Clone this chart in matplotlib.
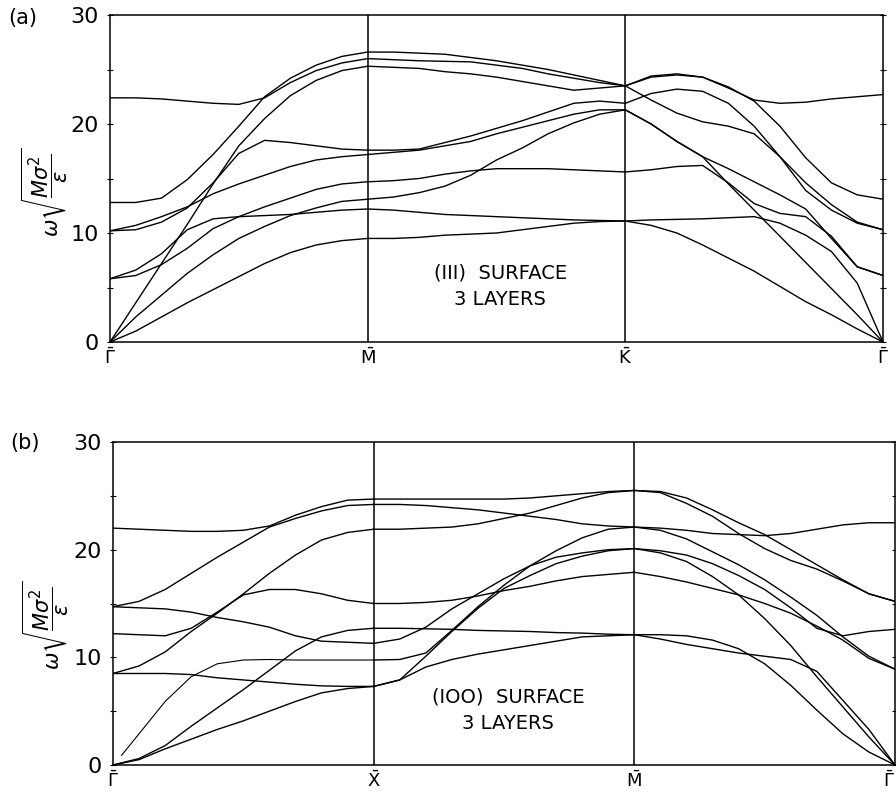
import numpy as np
import matplotlib
matplotlib.use('Agg')
import matplotlib.pyplot as plt

plt.rcParams['font.family'] = ['DejaVu Sans']
plt.rcParams['mathtext.fontset'] = 'dejavusans'

# fraction along each symmetry segment
frac = [0.0, 0.1, 0.2, 0.3, 0.4, 0.5, 0.6, 0.7, 0.8, 0.9, 1.0]

# ---- panel (a): (111) surface, Gamma-M-K-Gamma ----
a_labels = [r'$\bar{\Gamma}$', r'$\bar{\mathrm{M}}$', r'$\bar{\mathrm{K}}$', r'$\bar{\Gamma}$']
a_GM = [
    [22.4, 22.4, 22.3, 22.1, 21.9, 21.8, 22.4, 23.8, 24.9, 25.6, 26.0],
    [12.8, 12.8, 13.2, 14.9, 17.2, 19.8, 22.5, 24.2, 25.4, 26.2, 26.6],
    [0.0, 3.6, 7.2, 10.8, 14.5, 18.0, 20.5, 22.6, 24.0, 24.9, 25.3],
    [10.2, 10.3, 11.0, 12.3, 14.6, 17.3, 18.5, 18.3, 18.0, 17.7, 17.6],
    [10.2, 10.7, 11.5, 12.4, 13.6, 14.5, 15.3, 16.1, 16.7, 17.0, 17.2],
    [5.8, 6.6, 8.1, 10.3, 11.3, 11.5, 11.6, 11.7, 11.9, 12.1, 12.2],
    [5.8, 6.1, 7.1, 8.6, 10.4, 11.5, 12.4, 13.2, 14.0, 14.5, 14.7],
    [0.0, 2.3, 4.3, 6.3, 8.0, 9.5, 10.6, 11.6, 12.3, 12.9, 13.1],
    [0.0, 1.0, 2.3, 3.6, 4.8, 6.0, 7.2, 8.2, 8.9, 9.3, 9.5],
]
a_MK = [
    [26.6, 26.6, 26.5, 26.4, 26.1, 25.8, 25.4, 25.0, 24.5, 24.0, 23.5],
    [26.0, 25.9, 25.8, 25.75, 25.7, 25.4, 25.1, 24.6, 24.2, 23.8, 23.5],
    [25.3, 25.2, 25.1, 24.8, 24.6, 24.3, 23.9, 23.5, 23.1, 23.3, 23.5],
    [17.6, 17.6, 17.7, 18.3, 18.9, 19.6, 20.3, 21.1, 21.9, 22.1, 21.9],
    [17.2, 17.4, 17.6, 18.0, 18.4, 19.1, 19.7, 20.3, 20.9, 21.3, 21.3],
    [13.1, 13.3, 13.7, 14.3, 15.3, 16.7, 17.8, 19.1, 20.1, 20.9, 21.3],
    [14.7, 14.8, 15.0, 15.4, 15.7, 15.9, 15.9, 15.9, 15.8, 15.7, 15.6],
    [12.2, 12.1, 11.9, 11.7, 11.6, 11.5, 11.4, 11.3, 11.2, 11.15, 11.1],
    [9.5, 9.5, 9.6, 9.8, 9.9, 10.0, 10.3, 10.6, 10.9, 11.05, 11.1],
]
a_KG = [
    [23.5, 24.3, 24.5, 24.3, 23.3, 22.2, 21.9, 22.0, 22.3, 22.5, 22.7],
    [23.5, 24.4, 24.6, 24.3, 23.4, 22.1, 19.8, 16.9, 14.6, 13.5, 13.1],
    [23.5, 22.2, 21.0, 20.2, 19.8, 19.1, 17.0, 13.9, 12.1, 10.9, 10.3],
    [21.9, 22.8, 23.2, 23.0, 21.9, 19.8, 17.0, 14.6, 12.6, 11.0, 10.3],
    [21.3, 20.0, 18.4, 17.0, 15.9, 14.7, 13.5, 12.2, 9.5, 6.9, 6.1],
    [15.6, 15.8, 16.1, 16.2, 14.6, 12.7, 11.8, 11.5, 9.7, 6.9, 6.1],
    [21.3, 20.0, 18.4, 17.0, 14.5, 12.1, 9.7, 7.3, 4.9, 2.5, 0.0],
    [11.1, 11.2, 11.25, 11.3, 11.4, 11.5, 10.9, 9.8, 8.3, 5.4, 0.0],
    [11.1, 10.7, 10.0, 8.9, 7.7, 6.5, 5.1, 3.7, 2.5, 1.2, 0.0],
]

# ---- panel (b): (100) surface, Gamma-X-M-Gamma ----
b_labels = [r'$\bar{\Gamma}$', r'$\bar{\mathrm{X}}$', r'$\bar{\mathrm{M}}$', r'$\bar{\Gamma}$']
b_GX = [
    [22.0, 21.9, 21.8, 21.7, 21.7, 21.8, 22.2, 23.2, 24.0, 24.6, 24.7],
    [14.7, 15.2, 16.3, 17.8, 19.3, 20.7, 22.1, 22.9, 23.6, 24.1, 24.2],
    [14.7, 14.6, 14.5, 14.2, 13.7, 13.3, 12.8, 12.0, 11.5, 11.4, 11.3],
    [12.2, 12.1, 12.0, 12.7, 14.2, 15.8, 16.3, 16.3, 15.9, 15.3, 15.0],
    [8.5, 9.2, 10.5, 12.4, 14.1, 15.9, 17.8, 19.5, 20.9, 21.6, 21.9],
    [8.5, 8.5, 8.5, 8.4, 8.1, 7.9, 7.7, 7.5, 7.35, 7.3, 7.3],
    [0.0, 0.6, 1.8, 3.6, 5.3, 7.0, 8.8, 10.6, 11.9, 12.5, 12.7],
    [0.0, 0.5, 1.5, 2.4, 3.3, 4.1, 5.0, 5.9, 6.7, 7.1, 7.3],
]
b_thin_x = [0.033, 0.1, 0.2, 0.3, 0.4, 0.5, 0.6, 0.7, 0.8, 0.9, 1.0]
b_thin_y = [0.9, 2.9, 5.9, 8.2, 9.4, 9.75, 9.8, 9.75, 9.75, 9.75, 9.75]
b_XM = [
    [24.7, 24.7, 24.7, 24.7, 24.7, 24.7, 24.8, 25.0, 25.2, 25.4, 25.5],
    [24.2, 24.2, 24.1, 23.9, 23.7, 23.4, 23.1, 22.8, 22.4, 22.2, 22.1],
    [21.9, 21.9, 22.0, 22.1, 22.4, 22.9, 23.4, 24.1, 24.8, 25.3, 25.5],
    [15.0, 15.0, 15.1, 15.3, 15.7, 16.2, 16.6, 17.1, 17.5, 17.7, 17.9],
    [12.7, 12.7, 12.65, 12.6, 12.5, 12.45, 12.4, 12.3, 12.25, 12.15, 12.1],
    [11.3, 11.7, 12.8, 14.5, 15.9, 17.3, 18.5, 19.3, 19.7, 20.0, 20.1],
    [9.75, 9.8, 10.4, 12.5, 14.7, 16.7, 18.5, 19.9, 21.1, 21.9, 22.1],
    [7.3, 7.9, 10.1, 12.4, 14.55, 16.4, 17.6, 18.7, 19.4, 19.9, 20.1],
    [7.3, 7.9, 9.1, 9.8, 10.3, 10.7, 11.1, 11.5, 11.9, 12.0, 12.1],
]
b_MG = [
    [25.5, 25.4, 24.8, 23.7, 22.5, 21.4, 20.0, 18.6, 17.2, 15.9, 15.2],
    [25.5, 25.3, 24.3, 23.1, 21.5, 20.1, 19.0, 18.2, 17.1, 15.9, 15.2],
    [22.1, 22.0, 21.8, 21.5, 21.4, 21.3, 21.5, 21.9, 22.3, 22.5, 22.5],
    [22.1, 21.8, 21.0, 19.8, 18.6, 17.2, 15.6, 13.9, 11.9, 10.1, 8.9],
    [20.1, 19.9, 19.5, 18.7, 17.6, 16.3, 14.6, 12.7, 12.0, 12.4, 12.6],
    [20.1, 19.7, 18.9, 17.5, 15.8, 13.6, 11.1, 8.2, 5.4, 2.6, 0.0],
    [17.9, 17.5, 17.0, 16.4, 15.8, 15.0, 14.1, 12.9, 11.6, 9.9, 8.9],
    [12.1, 12.1, 12.0, 11.6, 10.8, 9.4, 7.4, 5.1, 2.9, 1.2, 0.0],
    [12.1, 11.7, 11.2, 10.8, 10.4, 10.1, 9.8, 8.7, 6.0, 3.3, 0.0],
]

ylabel = r'$\omega\sqrt{\dfrac{M\sigma^2}{\epsilon}}$'


def draw_panel(ax, segments, labels, note):
    fx = np.array(frac)
    for i, seg in enumerate(segments):
        for band in seg:
            ax.plot(i + fx, band, color='black', lw=1.0)
    ax.axvline(1, color='black', lw=1.1)
    ax.axvline(2, color='black', lw=1.1)
    ax.set_xlim(0, 3)
    ax.set_ylim(0, 30)
    ax.set_xticks([0, 1, 2, 3])
    ax.set_xticklabels(labels, fontsize=13)
    ax.set_yticks([0, 10, 20, 30])
    ax.set_yticklabels(['0', '10', '20', '30'], fontsize=16)
    ax.set_yticks([5, 15, 25], minor=True)
    ax.tick_params(axis='x', length=0, pad=4)
    ax.tick_params(axis='y', which='both', direction='inout', length=4,
                   width=0.8, right=True, pad=6)
    for sp in ax.spines.values():
        sp.set_linewidth(1.1)
    ax.text(0.505, 0.17, note, transform=ax.transAxes, ha='center',
            va='center', fontsize=14, linespacing=1.5)


fig = plt.figure(figsize=(8.96, 7.92), dpi=100)
ax_a = fig.add_axes([110 / 896, 1 - 342 / 792, 773 / 896, 327 / 792])
ax_b = fig.add_axes([113 / 896, 1 - 765 / 792, 782 / 896, 323 / 792])

draw_panel(ax_a, [a_GM, a_MK, a_KG], a_labels, '(III)  SURFACE\n3 LAYERS')
draw_panel(ax_b, [b_GX, b_XM, b_MG], b_labels, '(IOO)  SURFACE\n3 LAYERS')
ax_b.plot(b_thin_x, b_thin_y, color='black', lw=0.8)
ax_b.get_xticklabels()[-1].set_horizontalalignment('right')

fig.text(8 / 896, 1 - 18 / 792, '(a)', fontsize=15, va='center')
fig.text(10 / 896, 1 - 443 / 792, '(b)', fontsize=15, va='center')
fig.text(45 / 896, 1 - 192 / 792, ylabel, fontsize=15, rotation=90,
         ha='center', va='center')
fig.text(46 / 896, 1 - 625 / 792, ylabel, fontsize=15, rotation=90,
         ha='center', va='center')

fig.savefig('out.png', dpi=100)
